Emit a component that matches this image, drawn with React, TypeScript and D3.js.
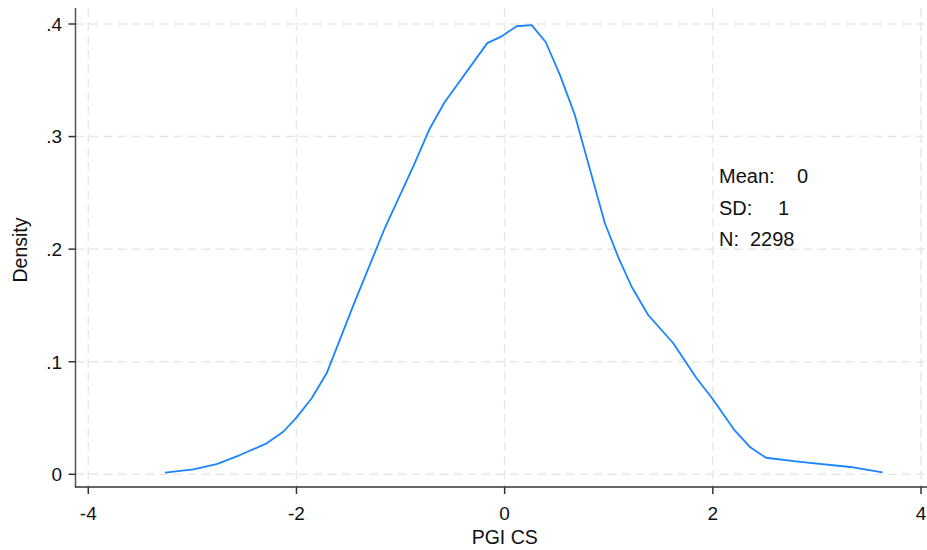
import React from "react";
import * as d3 from "d3";

const xValues = [-3.263, -2.991, -2.767, -2.543, -2.286, -2.127, -1.998, -1.854, -1.71, -1.454, -1.15, -0.88, -0.72, -0.58, -0.167, -0.03, 0.115, 0.26, 0.394, 0.53, 0.675, 0.963, 1.091, 1.22, 1.379, 1.62, 1.844, 1.99, 2.21, 2.36, 2.51, 2.84, 3.32, 3.63];
const densityValues = [0.0014, 0.0044, 0.0091, 0.0171, 0.0275, 0.0378, 0.0506, 0.0675, 0.0897, 0.15, 0.219, 0.273, 0.307, 0.33, 0.383, 0.389, 0.398, 0.399, 0.384, 0.355, 0.319, 0.223, 0.193, 0.1666, 0.1415, 0.1164, 0.0853, 0.068, 0.039, 0.024, 0.0147, 0.011, 0.0065, 0.0018];
const xTicks = [-4, -2, 0, 2, 4];
const yTicks = [0, 0.1, 0.2, 0.3, 0.4];
const yTickLabels = ["0", ".1", ".2", ".3", ".4"];
const statLabels = ["Mean:", "SD:", "N:"];
const statValues = ["0", "1", "2298"];

export default function App() {
  const W = 927, H = 550;
  const left = 75.5, bottom = 487, top = 8, right = 927;
  const x = d3.scaleLinear().domain([-4, 4]).range([88.3, 921]);
  const y = d3.scaleLinear().domain([0, 0.4]).range([474.3, 24]);
  const line = d3.line<number>().x((_, i) => x(xValues[i])).y((d) => y(d));
  const font = "Arial, 'Liberation Sans', Helvetica, sans-serif";
  const grid = "#e8e8e8";
  const valueX = [797, 778, 750];
  return (
    <svg width={W} height={H} style={{ position: "absolute", left: 0, top: 0, background: "#fff" }} fontFamily={font}>
      <rect x={0} y={0} width={W} height={H} fill="#fff" />
      {yTicks.map((t) => (
        <line key={"gy" + t} x1={left} x2={right} y1={y(t)} y2={y(t)} stroke={grid} strokeWidth={1.5} strokeDasharray="9,5" />
      ))}
      {xTicks.map((t) => (
        <line key={"gx" + t} x1={x(t)} x2={x(t)} y1={top} y2={bottom} stroke={grid} strokeWidth={1.5} strokeDasharray="9,5" />
      ))}
      <path d={line(densityValues) || ""} fill="none" stroke="#1a85ff" strokeWidth={1.8} strokeLinejoin="round" />
      <line x1={left} x2={left} y1={top} y2={bottom} stroke="#555" strokeWidth={1.5} />
      <line x1={left - 0.75} x2={right} y1={bottom} y2={bottom} stroke="#333" strokeWidth={1.5} />
      {yTicks.map((t, i) => (
        <g key={"ty" + t}>
          <line x1={left - 7} x2={left} y1={y(t)} y2={y(t)} stroke="#333" strokeWidth={1.5} />
          <text x={62} y={y(t)} dy="0.36em" textAnchor="end" fontSize={19} fill="#111">{yTickLabels[i]}</text>
        </g>
      ))}
      {xTicks.map((t) => (
        <g key={"tx" + t}>
          <line x1={x(t)} x2={x(t)} y1={bottom} y2={bottom + 7} stroke="#333" strokeWidth={1.5} />
          <text x={x(t)} y={519.5} textAnchor="middle" fontSize={19} fill="#111">{String(t)}</text>
        </g>
      ))}
      <text x={504.7} y={544} textAnchor="middle" fontSize={19.5} fill="#111">PGI CS</text>
      <text transform="translate(27,250) rotate(-90)" textAnchor="middle" fontSize={19.5} fill="#111">Density</text>
      {statLabels.map((s, i) => (
        <g key={s}>
          <text x={719} y={183 + i * 31.5} fontSize={20} fill="#111">{s}</text>
          <text x={valueX[i]} y={183 + i * 31.5} fontSize={20} fill="#111">{statValues[i]}</text>
        </g>
      ))}
    </svg>
  );
}
